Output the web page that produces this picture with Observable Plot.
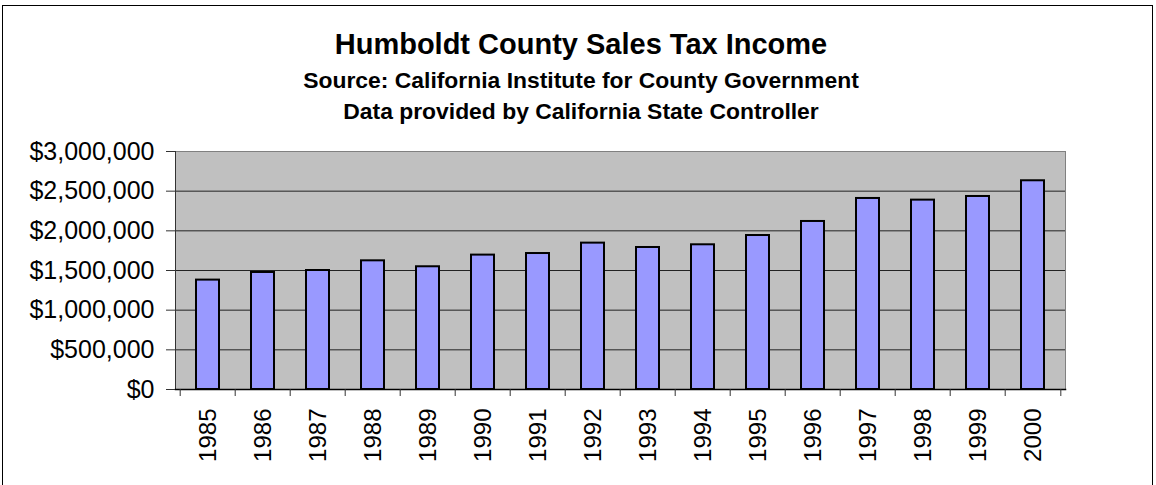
<!DOCTYPE html>
<html><head><meta charset="utf-8">
<script src="https://cdn.jsdelivr.net/npm/d3@7"></script>
<script src="https://cdn.jsdelivr.net/npm/@observablehq/plot@0.6"></script>
<style>
body{margin:0;background:#fff;font-family:"Liberation Sans",Arial,sans-serif;}
#wrap{position:relative;width:1156px;height:485px;overflow:hidden;background:#fff;}
#border{position:absolute;left:2px;top:5px;width:1151px;height:500px;border:1px solid #000;box-sizing:border-box;}
.t{position:absolute;left:4px;width:1154px;text-align:center;font-weight:bold;color:#000;line-height:1;white-space:nowrap;}
#chart{position:absolute;left:0;top:0;}
</style></head><body>
<div id="wrap">
<div id="border"></div>
<div id="chart"></div>
<div class="t" style="top:29.8px;font-size:29px;">Humboldt County Sales Tax Income</div>
<div class="t" style="top:70.4px;font-size:22px;transform:scaleX(1.04);">Source: California Institute for County Government</div>
<div class="t" style="top:101.4px;font-size:22px;transform:scaleX(1.04);">Data provided by California State Controller</div>
</div>
<script>
const years = ["1985","1986","1987","1988","1989","1990","1991","1992","1993","1994","1995","1996","1997","1998","1999","2000"];
const income = [1379000,1475000,1500000,1622000,1547000,1694000,1714000,1845000,1790000,1824000,1941000,2118000,2408000,2387000,2433000,2631000];
const yTicks = [0,500000,1000000,1500000,2000000,2500000,3000000];

const data = years.map((year, i) => ({year, income: income[i]}));
const W = 1156, H = 485, mL = 175, mR = 91, mT = 151, mB = 96;
const step = (W - mL - mR) / years.length;

const chart = Plot.plot({
  width: W, height: H,
  marginLeft: mL, marginRight: mR, marginTop: mT, marginBottom: mB,
  style: {fontFamily: "'Liberation Sans', Arial, sans-serif", fontSize: "24px", background: "transparent", color: "#000", overflow: "visible"},
  x: {domain: years, paddingInner: 0.58, paddingOuter: 0.29, label: null},
  y: {domain: [0, 3000000], label: null},
  marks: [
    Plot.frame({fill: "#c0c0c0", stroke: "#808080"}),
    Plot.ruleY(yTicks.slice(1, -1), {stroke: "#222", strokeWidth: 1}),
    Plot.barY(data, {x: "year", y: "income", fill: "#9999ff", stroke: "#000", strokeWidth: 2}),
    Plot.frame({anchor: "left", stroke: "#333"}),
    Plot.frame({anchor: "bottom", stroke: "#000", strokeWidth: 1.5}),
    Plot.axisY({ticks: yTicks, tickFormat: d3.format("$,"), tickSize: 9, tickPadding: 12, stroke: "#333", fontSize: 25}),
    Plot.axisX({tickSize: 0, tickRotate: -90, tickPadding: 19, fontSize: 24}),
    Plot.axisX({ticks: years, text: null, tickSize: 7, dx: -step / 2, stroke: "#333"}),
    Plot.axisX({ticks: years.slice(-1), text: null, tickSize: 7, dx: step / 2, stroke: "#333"})
  ]
});
document.getElementById("chart").appendChild(chart);
</script>
</body></html>
